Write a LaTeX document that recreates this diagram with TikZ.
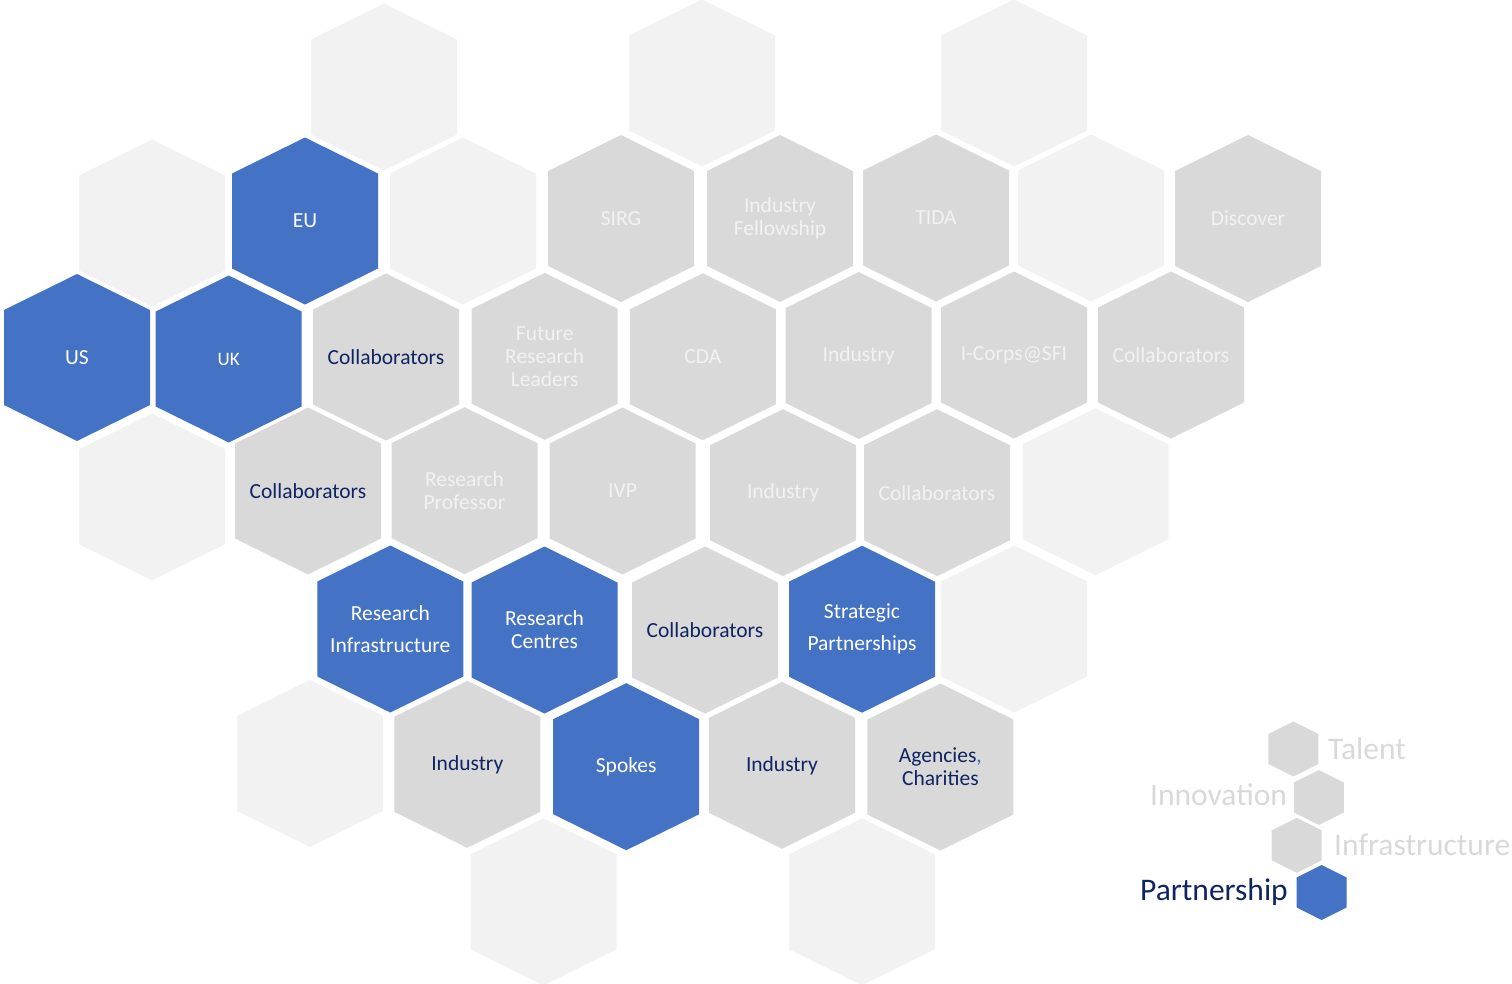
\documentclass[tikz,border=0pt]{standalone}
\usepackage{fontspec}
\setmainfont{Carlito}
\usepackage{tikz}
\usetikzlibrary{positioning, backgrounds, calc}

\definecolor{sfiblue}{HTML}{4472C4}
\definecolor{cellgrey}{HTML}{D9D9D9}
\definecolor{cellpale}{HTML}{F2F2F2}
\definecolor{textnavy}{HTML}{0F2461}
\definecolor{commablue}{HTML}{2E75B6}

\tikzstyle{cell} = [rectangle, minimum width=146pt, minimum height=167pt, inner sep=0pt, align=center, font=\fontsize{21.5}{23}\selectfont]
\tikzstyle{partner} = [cell, text=white]
\tikzstyle{active} = [cell, text=textnavy]
\tikzstyle{faded} = [cell, text=cellpale]
\tikzstyle{blank} = [cell]
\tikzstyle{legend} = [anchor=base west, inner sep=0pt, font=\fontsize{31.5}{36}\selectfont]

\begin{document}
\begin{tikzpicture}[x=1pt, y=-1pt]
        \useasboundingbox (0,0) rectangle (1512,983);

        % row 0
        \node (top_a) [blank] at (384,87) {};
        \node (top_b) [blank] at (702,83) {};
        \node (top_c) [blank] at (1014,83) {};
        % row 1
        \node (blank_a) [blank] at (152,223) {};
        \node (eu) [partner] at (305,221) {EU};
        \node (blank_b) [blank] at (463,221) {};
        \node (sirg) [faded] at (621,218.5) {SIRG};
        \node (fellowship) [faded] at (780,218.5) {Industry\\Fellowship};
        \node (tida) [faded] at (936,218) {TIDA};
        \node (blank_c) [blank] at (1091,218) {};
        \node (discover) [faded] at (1248,218.5) {Discover};
        % row 2
        \node (us) [partner] at (77,357.5) {US};
        \node (uk) [partner, font=\fontsize{19}{23}\selectfont] at (228.7,359) {UK};
        \node (collab_a) [active] at (386,357) {Collaborators};
        \node (leaders) [faded] at (544.7,356.3) {Future\\Research\\Leaders};
        \node (cda) [faded] at (702.8,356.8) {CDA};
        \node (industry_a) [faded] at (858.7,355.5) {Industry};
        \node (icorps) [faded] at (1014,355) {I-Corps@SFI};
        \node (collab_b) [faded] at (1171,355) {Collaborators};
        % row 3
        \node (blank_d) [blank] at (152,496.8) {};
        \node (collab_c) [active] at (308,491) {Collaborators};
        \node (professor) [faded] at (464.5,490.7) {Research\\Professor};
        \node (ivp) [faded] at (622.5,491) {IVP};
        \node (industry_b) [faded] at (783,492.7) {Industry};
        \node (collab_d) [faded] at (937,492.7) {Collaborators};
        \node (blank_e) [blank] at (1095.5,491.7) {};
        % row 4
        \node (infra) [partner] at (390.3,629) {Research\\[9pt]Infrastructure};
        \node (centres) [partner] at (544.5,630) {Research\\Centres};
        \node (collab_e) [active] at (705,630) {Collaborators};
        \node (strategic) [partner] at (862,629.2) {Strategic\\[9pt]Partnerships};
        \node (blank_f) [blank] at (1014.2,629) {};
        % row 5
        \node (blank_g) [blank] at (310,763.5) {};
        \node (industry_c) [active] at (467.3,764.3) {Industry};
        \node (spokes) [partner] at (626.2,766.7) {Spokes};
        \node (industry_d) [active] at (782,765.3) {Industry};
        \node (agencies) [active] at (940.4,767) {Agencies{\color{commablue},}\\Charities};
        % row 6
        \node (blank_h) [blank] at (543.5,901.8) {};
        \node (blank_i) [blank] at (862,901.8) {};

        % legend
        \coordinate (hex_talent) at (1293.3,749);
        \coordinate (hex_innov) at (1318.8,797.5);
        \coordinate (hex_infra) at (1296.7,845.3);
        \coordinate (hex_partner) at (1321.7,892.5);
        \node (lbl_talent) [legend, text=cellgrey] at (1328,759) {Talent};
        \node (lbl_innov) [legend, text=cellgrey] at (1150,805.7) {Innovation};
        \node (lbl_infra) [legend, text=cellgrey] at (1334,855.7) {Infrastructure};
        \node (lbl_partner) [legend, text=textnavy] at (1140,900.7) {Partnership};

        \begin{scope}[on background layer]
        \foreach \n/\c in {top_a/cellpale, top_b/cellpale, top_c/cellpale,
                blank_a/cellpale, eu/sfiblue, blank_b/cellpale, sirg/cellgrey, fellowship/cellgrey,
                tida/cellgrey, blank_c/cellpale, discover/cellgrey,
                us/sfiblue, uk/sfiblue, collab_a/cellgrey, leaders/cellgrey, cda/cellgrey,
                industry_a/cellgrey, icorps/cellgrey, collab_b/cellgrey,
                blank_d/cellpale, collab_c/cellgrey, professor/cellgrey, ivp/cellgrey,
                industry_b/cellgrey, collab_d/cellgrey, blank_e/cellpale,
                infra/sfiblue, centres/sfiblue, collab_e/cellgrey, strategic/sfiblue, blank_f/cellpale,
                blank_g/cellpale, industry_c/cellgrey, spokes/sfiblue, industry_d/cellgrey, agencies/cellgrey,
                blank_h/cellpale, blank_i/cellpale}
            \fill[\c] (\n.center) ++(0,-83.5) -- ++(73,36) -- ++(0,95) -- ++(-73,36) -- ++(-73,-36) -- ++(0,-95) -- cycle;
        \foreach \n/\c in {hex_talent/cellgrey, hex_innov/cellgrey, hex_infra/cellgrey, hex_partner/sfiblue}
            \fill[\c] (\n) ++(0,-27.5) -- ++(25,12.5) -- ++(0,30) -- ++(-25,12.5) -- ++(-25,-12.5) -- ++(0,-30) -- cycle;
        \end{scope}
\end{tikzpicture}
\end{document}
